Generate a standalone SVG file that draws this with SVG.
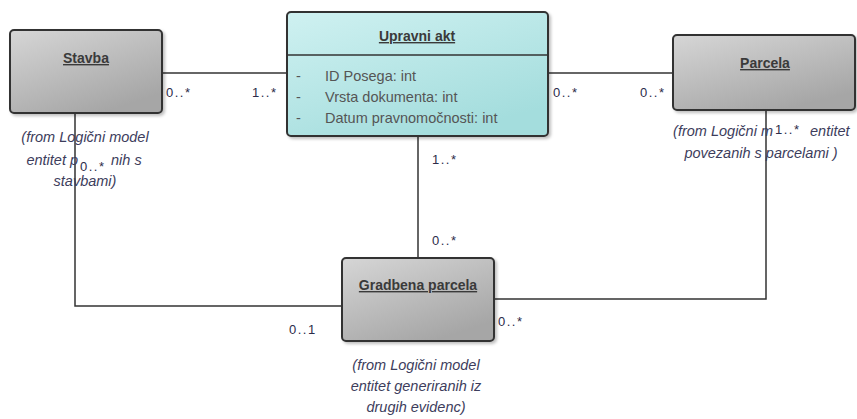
<svg xmlns="http://www.w3.org/2000/svg" width="857" height="419" viewBox="0 0 857 419">
<defs>
<linearGradient id="gGray" x1="0" y1="0" x2="0.6" y2="1">
<stop offset="0" stop-color="#d6d6d6"/>
<stop offset="1" stop-color="#a6a6a6"/>
</linearGradient>
<linearGradient id="gCyan" x1="0" y1="0" x2="0.6" y2="1">
<stop offset="0" stop-color="#cff1f1"/>
<stop offset="1" stop-color="#a4dddd"/>
</linearGradient>
<filter id="sh" x="-10%" y="-10%" width="125%" height="130%">
<feDropShadow dx="2" dy="2" stdDeviation="1.5" flood-color="#000" flood-opacity="0.25"/>
</filter>
</defs>
<style>
.box{stroke:#333;stroke-width:2;filter:url(#sh)}
.title{font-family:"Liberation Sans",Arial,sans-serif;font-size:14px;font-weight:bold;fill:#3a3a3a;text-anchor:middle;text-decoration:underline}
.attr{font-family:"Liberation Sans",Arial,sans-serif;font-size:14.5px;fill:#555}
.note{font-family:"Liberation Sans",Arial,sans-serif;font-size:14.5px;font-style:italic;fill:#3d3d5c;text-anchor:middle}
.ne{text-anchor:end}
.ns{text-anchor:start}
.mult{font-family:"Liberation Sans",Arial,sans-serif;font-size:13px;letter-spacing:1.5px;fill:#2c2c4a}
.conn{stroke:#333;stroke-width:1.5;fill:none}
</style>
<g id="connectors">
<line class="conn" x1="162" y1="73" x2="287" y2="73"/>
<line class="conn" x1="548" y1="73" x2="673" y2="73"/>
<line class="conn" x1="418" y1="136" x2="418" y2="258"/>
<polyline class="conn" points="75,113 75,306 342,306"/>
<polyline class="conn" points="766,110 766,299 494,299"/>
<text class="mult" x="166" y="97">0..*</text>
<text class="mult" x="252" y="97">1..*</text>
<text class="mult" x="553" y="97">0..*</text>
<text class="mult" x="640" y="97">0..*</text>
<text class="mult" x="432" y="164">1..*</text>
<text class="mult" x="432" y="245">0..*</text>
<text class="mult" x="289" y="334">0..1</text>
<text class="mult" x="498" y="326">0..*</text>
</g>
<g id="stavba">
<rect class="box" x="10" y="30" width="152" height="83" rx="4" fill="url(#gGray)"/>
<text class="title" x="86" y="63">Stavba</text>
<text class="note" x="85" y="142">(from Logični model</text>
<text class="note ne" x="78" y="165">entitet p</text>
<text class="note ns" x="111" y="165">nih s</text>
<text class="note" x="85" y="186">stavbami)</text>
<text class="mult" x="80" y="171">0..*</text>
</g>
<g id="upravni_akt">
<rect class="box" x="287" y="12" width="261" height="124" rx="4" fill="url(#gCyan)"/>
<line x1="287" y1="55" x2="548" y2="55" stroke="#333" stroke-width="1.5"/>
<text class="title" x="417" y="41">Upravni akt</text>
<text class="attr" x="296" y="81">-</text>
<text class="attr" x="325" y="81">ID Posega: int</text>
<text class="attr" x="296" y="102">-</text>
<text class="attr" x="325" y="102">Vrsta dokumenta: int</text>
<text class="attr" x="296" y="123">-</text>
<text class="attr" x="325" y="123">Datum pravnomočnosti: int</text>
</g>
<g id="parcela">
<rect class="box" x="673" y="35" width="182" height="75" rx="4" fill="url(#gGray)"/>
<text class="title" x="765" y="68">Parcela</text>
<text class="note ne" x="773" y="136">(from Logični m</text>
<text class="mult" x="775" y="134">1..*</text>
<text class="note ns" x="810" y="136">entitet</text>
<text class="note" x="761" y="158">povezanih s parcelami )</text>
</g>
<g id="gradbena_parcela">
<rect class="box" x="342" y="258" width="152" height="83" rx="4" fill="url(#gGray)"/>
<text class="title" x="418" y="290">Gradbena parcela</text>
<text class="note" x="416" y="370">(from Logični model</text>
<text class="note" x="416" y="391">entitet generiranih iz</text>
<text class="note" x="416" y="412">drugih evidenc)</text>
</g>
</svg>
